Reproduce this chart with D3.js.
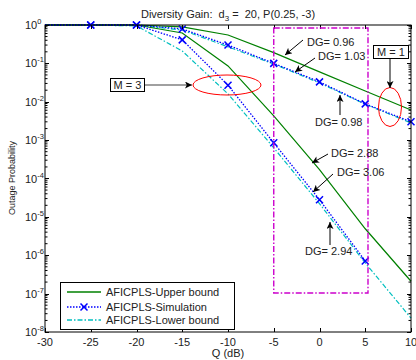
<!DOCTYPE html>
<html>
<head>
<meta charset="utf-8">
<script src="https://cdn.jsdelivr.net/npm/d3@7"></script>
<style>
  body { margin: 0; background: #fff; }
  text { font-family: "Liberation Sans", Arial, sans-serif; fill: #222; }
</style>
</head>
<body>
<svg id="chart" width="416" height="360"></svg>
<script>
// Q in dB
var qdB = [-30, -25, -20, -15, -10, -5, 0, 5, 10];

// M = 1 curves
var upperM1 = [1, 1, 1, 0.89, 0.55, 0.19, 0.06, 0.019, 0.0061];
var simM1   = [1, 1, 1, 0.79, 0.30, 0.10, 0.033, 0.0088, 0.003];
var lowerM1 = [1, 1, 0.99, 0.74, 0.27, 0.096, 0.031, 0.0086, 0.0028];

// M = 3 curves
var upperM3 = [1, 1, 1, 0.62, 0.086, 0.0043, 1.7e-4, 4.9e-6, 2.1e-7];
var simM3   = [1, 1, 1, 0.41, 0.027, 8.5e-4, 2.8e-5, 7.1e-7];
var lowerM3 = [1, 0.99, 0.95, 0.21, 0.016, 6.3e-4, 2.2e-5, 6.3e-7, 2.3e-8];

var xTicks = [-30, -25, -20, -15, -10, -5, 0, 5, 10];
var yExponents = [0, -1, -2, -3, -4, -5, -6, -7, -8];

var legendLabels = ["AFICPLS-Upper bound", "AFICPLS-Simulation", "AFICPLS-Lower bound"];
var dgLabels = ["DG= 0.96", "DG= 1.03", "DG= 0.98", "DG= 2.88", "DG= 3.06", "DG= 2.94"];

var colors = { upper: "#008000", sim: "#0000ff", lower: "#00bfbf" };

(function () {
var svg = d3.select("#chart");
var pLeft = 45, pRight = 411, pTop = 25, pBottom = 332;

var x = d3.scaleLinear().domain([-30, 10]).range([pLeft, pRight]);
var y = d3.scaleLog().domain([1e-8, 1]).range([pBottom, pTop]);

// arrow marker
svg.append("defs").append("marker")
    .attr("id", "arrow")
    .attr("viewBox", "0 0 10 10")
    .attr("refX", 10).attr("refY", 5)
    .attr("markerWidth", 9).attr("markerHeight", 7)
    .attr("markerUnits", "userSpaceOnUse")
    .attr("orient", "auto")
    .append("path")
    .attr("d", "M0,0 L10,5 L0,10 L2.5,5 Z")
    .attr("fill", "#000");

svg.append("clipPath").attr("id", "plotclip")
    .append("rect").attr("x", pLeft).attr("y", pTop - 2)
    .attr("width", pRight - pLeft + 2).attr("height", pBottom - pTop + 2);

var plot = svg.append("g").attr("clip-path", "url(#plotclip)");

var line = d3.line().x(d => x(d[0])).y(d => y(d[1]));

function series(vals) {
    return vals.map((v, i) => [qdB[i], v]);
}

function drawCurve(vals, color, dash, width) {
    plot.append("path")
        .datum(series(vals))
        .attr("d", line)
        .attr("fill", "none")
        .attr("stroke", color)
        .attr("stroke-width", width)
        .attr("stroke-dasharray", dash);
}

function drawCross(g, cx, cy, s) {
    g.append("path")
        .attr("d", `M${cx - s},${cy - s}L${cx + s},${cy + s}M${cx - s},${cy + s}L${cx + s},${cy - s}`)
        .attr("stroke", colors.sim)
        .attr("stroke-width", 1.5)
        .attr("fill", "none");
}

// Lower bounds
drawCurve(lowerM1, colors.lower, "5,2,1.5,2", 1.2);
drawCurve(lowerM3, colors.lower, "5,2,1.5,2", 1.2);
// Upper bounds
drawCurve(upperM1, colors.upper, null, 1.2);
drawCurve(upperM3, colors.upper, null, 1.2);
// Simulation
drawCurve(simM1, colors.sim, "1.5,1.5", 1.3);
drawCurve(simM3, colors.sim, "1.5,1.5", 1.3);

[simM1, simM3].forEach(vals => {
    series(vals).forEach((d, i) => {
        if (i >= 1) drawCross(svg, x(d[0]), y(d[1]), 3.5);
    });
});

// Axes box
svg.append("rect")
    .attr("x", pLeft).attr("y", pTop)
    .attr("width", pRight - pLeft).attr("height", pBottom - pTop)
    .attr("fill", "none").attr("stroke", "#000").attr("stroke-width", 1);

var ticks = svg.append("g").attr("stroke", "#000").attr("stroke-width", 1);

// x ticks (bottom and top)
xTicks.forEach(t => {
    var px = Math.round(x(t)) + 0.5;
    ticks.append("line").attr("x1", px).attr("x2", px).attr("y1", pBottom).attr("y2", pBottom - 4);
    ticks.append("line").attr("x1", px).attr("x2", px).attr("y1", pTop).attr("y2", pTop + 4);
    svg.append("text")
        .attr("x", x(t)).attr("y", pBottom + 14)
        .attr("text-anchor", "middle")
        .attr("font-size", 11)
        .text(t);
});

// y ticks (major + minor, left and right)
yExponents.forEach(e => {
    var major = Math.round(y(Math.pow(10, e))) + 0.5;
    ticks.append("line").attr("x1", pLeft).attr("x2", pLeft + 4).attr("y1", major).attr("y2", major);
    ticks.append("line").attr("x1", pRight).attr("x2", pRight - 4).attr("y1", major).attr("y2", major);
    if (e > -8) {
        for (var m = 2; m <= 9; m++) {
            var py = y(m * Math.pow(10, e - 1));
            ticks.append("line").attr("x1", pLeft).attr("x2", pLeft + 2.5).attr("y1", py).attr("y2", py);
            ticks.append("line").attr("x1", pRight).attr("x2", pRight - 2.5).attr("y1", py).attr("y2", py);
        }
    }
    var lbl = svg.append("text")
        .attr("x", 25).attr("y", y(Math.pow(10, e)) + 4)
        .attr("font-size", 11);
    lbl.append("tspan").text("10");
    lbl.append("tspan").attr("dy", -5).attr("font-size", 7.5).text(e);
});

// Title and axis labels
var title = svg.append("text")
    .attr("x", 228).attr("y", 18)
    .attr("text-anchor", "middle")
    .attr("font-size", 11)
    .style("white-space", "pre");
title.append("tspan").text("Diversity Gain:  d");
title.append("tspan").attr("dy", 2.5).attr("font-size", 8).text("3");
title.append("tspan").attr("dy", -2.5).text(" =  20, P(0.25, -3)");

svg.append("text")
    .attr("x", 228).attr("y", 356.5)
    .attr("text-anchor", "middle")
    .attr("font-size", 11)
    .text("Q (dB)");

svg.append("text")
    .attr("transform", "translate(15,178) rotate(-90)")
    .attr("text-anchor", "middle")
    .attr("font-size", 9)
    .text("Outage Probability");

// Magenta dash-dot region
svg.append("rect")
    .attr("x", x(-5)).attr("y", 28)
    .attr("width", x(5.3) - x(-5)).attr("height", 293 - 28)
    .attr("fill", "none")
    .attr("stroke", "#cc00cc")
    .attr("stroke-width", 1.4)
    .attr("stroke-dasharray", "6,2,1.5,2");

// Red ellipses
svg.append("ellipse")
    .attr("cx", 227).attr("cy", 85).attr("rx", 34).attr("ry", 10)
    .attr("fill", "none").attr("stroke", "#ff0000").attr("stroke-width", 1);
svg.append("ellipse")
    .attr("cx", 390).attr("cy", 107).attr("rx", 11.5).attr("ry", 19.5)
    .attr("fill", "none").attr("stroke", "#ff0000").attr("stroke-width", 1);

// M labels
function boxLabel(bx, by, bw, bh, txt) {
    svg.append("rect")
        .attr("x", bx).attr("y", by).attr("width", bw).attr("height", bh)
        .attr("fill", "#fff").attr("stroke", "#000").attr("stroke-width", 1);
    svg.append("text")
        .attr("x", bx + bw / 2).attr("y", by + bh - 2.5)
        .attr("text-anchor", "middle")
        .attr("font-size", 11)
        .text(txt);
}
boxLabel(110.5, 78.5, 34, 13, "M = 3");
boxLabel(373.5, 45.5, 35, 13, "M = 1");

svg.append("line")
    .attr("x1", 145).attr("y1", 85).attr("x2", 192).attr("y2", 85)
    .attr("stroke", "#808080").attr("stroke-width", 1.5)
    .attr("marker-end", "url(#arrow)");
svg.append("line")
    .attr("x1", 390).attr("y1", 59).attr("x2", 390).attr("y2", 88)
    .attr("stroke", "#000").attr("stroke-width", 1)
    .attr("marker-end", "url(#arrow)");

// DG annotations: [text x, text baseline, arrow start x, y, arrow end x, y]
var dgLayout = [
    [307, 46, 303, 40, 285, 55],
    [318, 60, 315, 58, 295, 72],
    [315, 126, 340, 115, 340, 95],
    [331, 157, 328, 154, 312, 163],
    [337, 176, 333, 174, 313, 192],
    [305, 255, 330, 245, 330, 222]
];
dgLabels.forEach((t, i) => {
    var p = dgLayout[i];
    svg.append("line")
        .attr("x1", p[2]).attr("y1", p[3]).attr("x2", p[4]).attr("y2", p[5])
        .attr("stroke", "#000").attr("stroke-width", 1)
        .attr("marker-end", "url(#arrow)");
    svg.append("text")
        .attr("x", p[0]).attr("y", p[1])
        .attr("font-size", 11)
        .text(t);
});

// Legend
var lg = svg.append("g");
lg.append("rect")
    .attr("x", 60.5).attr("y", 282.5).attr("width", 174).attr("height", 47)
    .attr("fill", "#fff").attr("stroke", "#000").attr("stroke-width", 1);
var legendStyles = [
    { color: colors.upper, dash: null, marker: false },
    { color: colors.sim, dash: "1.5,1.5", marker: true },
    { color: colors.lower, dash: "5,2,1.5,2", marker: false }
];
var legendY = [292, 307, 320];
legendLabels.forEach((t, i) => {
    var s = legendStyles[i];
    lg.append("line")
        .attr("x1", 67).attr("x2", 101).attr("y1", legendY[i]).attr("y2", legendY[i])
        .attr("stroke", s.color).attr("stroke-width", 1.3)
        .attr("stroke-dasharray", s.dash);
    if (s.marker) drawCross(lg, 84, legendY[i], 3.5);
    lg.append("text")
        .attr("x", 106).attr("y", legendY[i] + 4)
        .attr("font-size", 11)
        .text(t);
});
})();
</script>
</body>
</html>
